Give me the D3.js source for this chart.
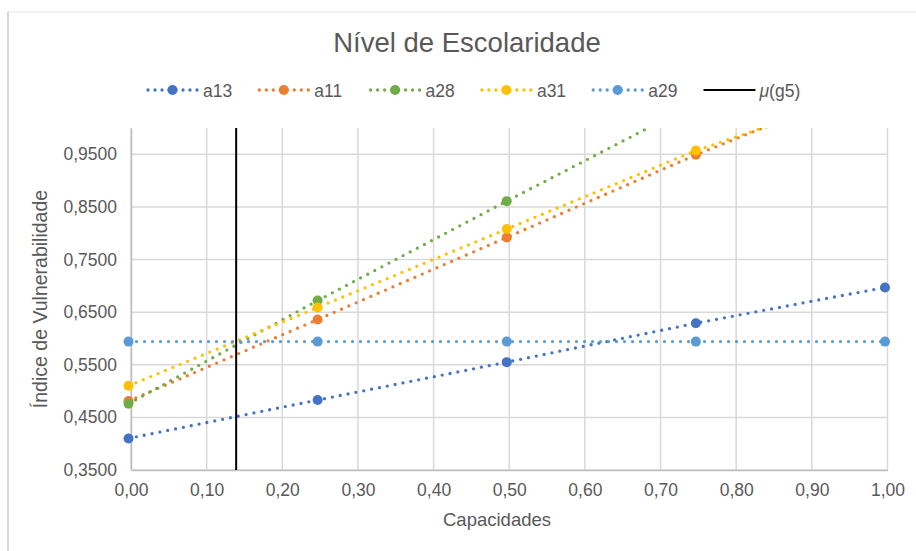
<!DOCTYPE html>
<html>
<head>
<meta charset="utf-8">
<script src="https://cdn.jsdelivr.net/npm/d3@7/dist/d3.min.js"></script>
<style>
  html, body { margin: 0; padding: 0; background: #fff; }
  svg { display: block; font-family: "Liberation Sans", Arial, sans-serif; }
</style>
</head>
<body>
<svg id="chart" width="916" height="551"></svg>
<script>
// ---- data ----
const xValues = [0, 0.25, 0.5, 0.75, 1.0];
const seriesNames = ["a13", "a11", "a28", "a31", "a29"];
const a13 = [0.410, 0.483, 0.555, 0.629, 0.697];
const a11 = [0.481, 0.636, 0.792, 0.949, 1.094];
const a28 = [0.476, 0.672, 0.861, 1.047, 1.230];
const a31 = [0.510, 0.659, 0.808, 0.957, 1.079];
const a29 = [0.594, 0.594, 0.594, 0.594, 0.594];
const muG5 = 0.139;
const muLabel = "μ(g5)";
const xTicks = [0, 0.1, 0.2, 0.3, 0.4, 0.5, 0.6, 0.7, 0.8, 0.9, 1.0];
const yTicks = [0.35, 0.45, 0.55, 0.65, 0.75, 0.85, 0.95];
const title = "Nível de Escolaridade";
const xTitle = "Capacidades";
const yTitle = "Índice de Vulnerabilidade";

const seriesValues = [a13, a11, a28, a31, a29];
const colors = ["#4472C4", "#ED7D31", "#70AD47", "#FFC000", "#5B9BD5"];

const svg = d3.select("#chart");
const W = 916, H = 551;
const plot = { left: 131, right: 887.5, top: 128, bottom: 470 };

const x = d3.scaleLinear().domain([0, 1]).range([plot.left, plot.right]);
const y = d3.scaleLinear().domain([0.35, 1.0]).range([plot.bottom, plot.top]);

const locale = d3.formatLocale({ decimal: ",", thousands: ".", grouping: [3], currency: ["", ""] });
const fx = locale.format(".2f");
const fy = locale.format(".4f");

// chart border
svg.append("rect").attr("x", 8).attr("y", 12).attr("width", W + 10).attr("height", H + 10)
  .attr("fill", "none").attr("stroke", "#ebebeb").attr("stroke-width", 1.2);
svg.append("line").attr("x1", 8).attr("x2", 8).attr("y1", 12).attr("y2", H)
  .attr("stroke", "#d9d9d9").attr("stroke-width", 2);

// title
svg.append("text").attr("x", 467).attr("y", 52).attr("text-anchor", "middle")
  .attr("font-size", 27.5).attr("fill", "#595959").text(title);

// gridlines
const gridG = svg.append("g");
gridG.selectAll("line.v").data(xTicks).join("line")
  .attr("x1", d => x(d)).attr("x2", d => x(d))
  .attr("y1", plot.top).attr("y2", plot.bottom)
  .attr("stroke", "#d9d9d9").attr("stroke-width", 1.5);
gridG.selectAll("line.h").data(yTicks).join("line")
  .attr("x1", plot.left).attr("x2", plot.right)
  .attr("y1", d => y(d)).attr("y2", d => y(d))
  .attr("stroke", "#d9d9d9").attr("stroke-width", 1.5);

// axes
const xAxis = d3.axisBottom(x).tickValues(xTicks).tickFormat(fx).tickSize(0).tickPadding(14);
const yAxis = d3.axisLeft(y).tickValues(yTicks).tickFormat(fy).tickSize(0).tickPadding(14);
const gx = svg.append("g").attr("transform", `translate(0,${plot.bottom})`).call(xAxis);
const gy = svg.append("g").attr("transform", `translate(${plot.left},0)`).call(yAxis);
[gx, gy].forEach(g => {
  g.select(".domain").attr("stroke", "#bfbfbf").attr("stroke-width", 1.5);
  g.selectAll("text").attr("font-size", 17.5).attr("fill", "#595959")
    .attr("font-family", "'Liberation Sans', Arial, sans-serif");
});

// axis titles
svg.append("text").attr("x", 497).attr("y", 526).attr("text-anchor", "middle")
  .attr("font-size", 18.5).attr("fill", "#595959").text(xTitle);
svg.append("text").attr("transform", `translate(47,${(plot.top + plot.bottom) / 2}) rotate(-90)`)
  .attr("text-anchor", "middle").attr("font-size", 19.5).attr("fill", "#595959").text(yTitle);

// clip
svg.append("clipPath").attr("id", "clip").append("rect")
  .attr("x", plot.left - 12).attr("y", plot.top).attr("width", plot.right - plot.left + 20)
  .attr("height", plot.bottom - plot.top + 8);

const dataG = svg.append("g").attr("clip-path", "url(#clip)");
const seriesG = dataG.append("g").attr("transform", "translate(-2.5,0)");

const line = d3.line().x(d => x(d[0])).y(d => y(d[1]));

seriesValues.forEach((vals, i) => {
  const pts = xValues.map((xv, j) => [xv, vals[j]]);
  const g = seriesG.append("g");
  g.append("path").datum(pts).attr("d", line)
    .attr("fill", "none").attr("stroke", colors[i]).attr("stroke-width", 3.3)
    .attr("stroke-linecap", "round").attr("stroke-dasharray", "0 8");
  g.selectAll("circle").data(pts.filter(p => p[1] <= 1.0)).join("circle")
    .attr("cx", d => x(d[0])).attr("cy", d => y(d[1])).attr("r", 5)
    .attr("fill", colors[i]);
});

// mu(g5) vertical line
dataG.append("path").datum([[muG5, 0.35], [muG5, 1.0]]).attr("d", line)
  .attr("stroke", "#000").attr("stroke-width", 2).attr("fill", "none");

// legend
const legendY = 90;
const legendStart = 147;
const legendStep = 111.3;
const legendItems = seriesNames.map((n, i) => ({ name: n, color: colors[i], type: "series" }))
  .concat([{ name: muLabel, color: "#000", type: "mu" }]);
const lg = svg.append("g");
legendItems.forEach((it, i) => {
  const x0 = legendStart + i * legendStep;
  const g = lg.append("g").attr("transform", `translate(${x0},${legendY})`);
  if (it.type === "series") {
    g.append("line").attr("x1", 1).attr("x2", 51).attr("y1", 0).attr("y2", 0)
      .attr("stroke", it.color).attr("stroke-width", 3.3).attr("stroke-linecap", "round")
      .attr("stroke-dasharray", "0 7");
    g.append("circle").attr("cx", 25.5).attr("cy", 0).attr("r", 5).attr("fill", it.color);
    g.append("text").attr("x", 56).attr("y", 6.5).attr("font-size", 17.5).attr("fill", "#595959").text(it.name);
  } else {
    g.append("line").attr("x1", 0).attr("x2", 52).attr("y1", 0).attr("y2", 0)
      .attr("stroke", it.color).attr("stroke-width", 2);
    const t = g.append("text").attr("x", 56).attr("y", 6.5).attr("font-size", 17.5).attr("fill", "#595959");
    t.append("tspan").attr("font-style", "italic").text("μ");
    t.append("tspan").text("(g5)");
  }
});
</script>
</body>
</html>
